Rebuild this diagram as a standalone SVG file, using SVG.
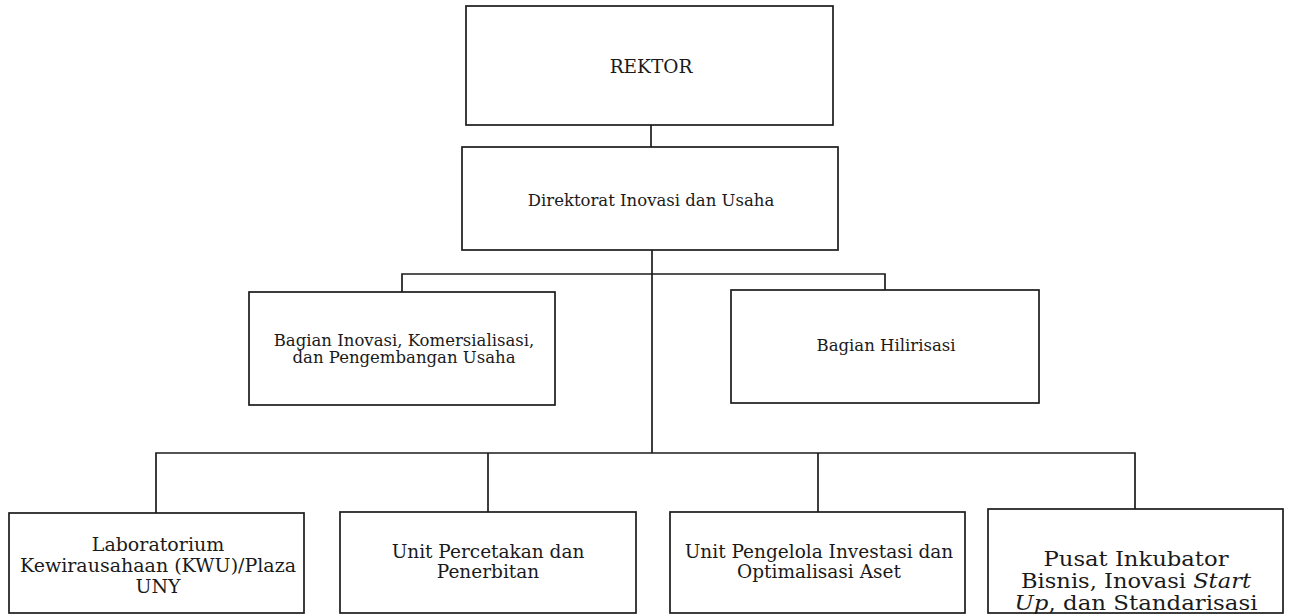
<svg xmlns="http://www.w3.org/2000/svg" width="1290" height="616" viewBox="0 0 1290 616">
  <style>
    .box { fill: #ffffff; stroke: #1c1c1c; stroke-width: 1.7; }
    .link { fill: none; stroke: #1c1c1c; stroke-width: 1.7; }
    text { font-family: "DejaVu Serif", "Liberation Serif", serif; fill: #1a1a1a; text-anchor: middle; }
    .t0 { font-size: 18.5px; }
    .t1 { font-size: 16.5px; }
    .t3 { font-size: 18.5px; }
    .t4 { font-size: 19px; }
    .t5 { font-size: 20px; }
    .it { font-style: italic; }
  </style>
  <rect width="1290" height="616" fill="#ffffff"/>

  <!-- reporting lines -->
  <g id="connectors">
    <line class="link" x1="651" y1="125" x2="651" y2="147"/>
    <line class="link" x1="652" y1="250" x2="652" y2="453"/>
    <polyline class="link" points="402,292 402,274 885,274 885,290"/>
    <polyline class="link" points="156,513 156,453 1135,453 1135,509"/>
    <line class="link" x1="488" y1="453" x2="488" y2="512"/>
    <line class="link" x1="818" y1="453" x2="818" y2="512"/>
  </g>

  <g id="rektor">
    <rect class="box" x="466" y="6" width="367" height="119"/>
    <text class="t0" x="651" y="73">REKTOR</text>
  </g>

  <g id="direktorat">
    <rect class="box" x="462" y="147" width="376" height="103"/>
    <text class="t1" x="651" y="206">Direktorat Inovasi dan Usaha</text>
  </g>

  <g id="bagian-inovasi">
    <rect class="box" x="249" y="292" width="306" height="113"/>
    <text class="t1" x="404" y="346">Bagian Inovasi, Komersialisasi,</text>
    <text class="t1" x="404" y="363">dan Pengembangan Usaha</text>
  </g>

  <g id="bagian-hilirisasi">
    <rect class="box" x="731" y="290" width="308" height="113"/>
    <text class="t1" x="886" y="351">Bagian Hilirisasi</text>
  </g>

  <g id="lab-kwu">
    <rect class="box" x="9" y="513" width="295" height="100"/>
    <text class="t4" x="158" y="551">Laboratorium</text>
    <text class="t4" x="158" y="572">Kewirausahaan (KWU)/Plaza</text>
    <text class="t4" x="158" y="593">UNY</text>
  </g>

  <g id="unit-percetakan">
    <rect class="box" x="340" y="512" width="296" height="101"/>
    <text class="t3" x="488" y="558">Unit Percetakan dan</text>
    <text class="t3" x="488" y="578">Penerbitan</text>
  </g>

  <g id="unit-investasi">
    <rect class="box" x="670" y="512" width="295" height="101"/>
    <text class="t3" x="819" y="558">Unit Pengelola Investasi dan</text>
    <text class="t3" x="819" y="578">Optimalisasi Aset</text>
  </g>

  <g id="pusat-inkubator">
    <rect class="box" x="988" y="509" width="295" height="104"/>
    <text class="t5" x="1136" y="566" textLength="185" lengthAdjust="spacingAndGlyphs">Pusat Inkubator</text>
    <text class="t5" x="1136" y="588" textLength="230" lengthAdjust="spacingAndGlyphs">Bisnis, Inovasi <tspan class="it">Start</tspan></text>
    <text class="t5" x="1136" y="610" textLength="243" lengthAdjust="spacingAndGlyphs"><tspan class="it">Up</tspan>, dan Standarisasi</text>
  </g>
</svg>
